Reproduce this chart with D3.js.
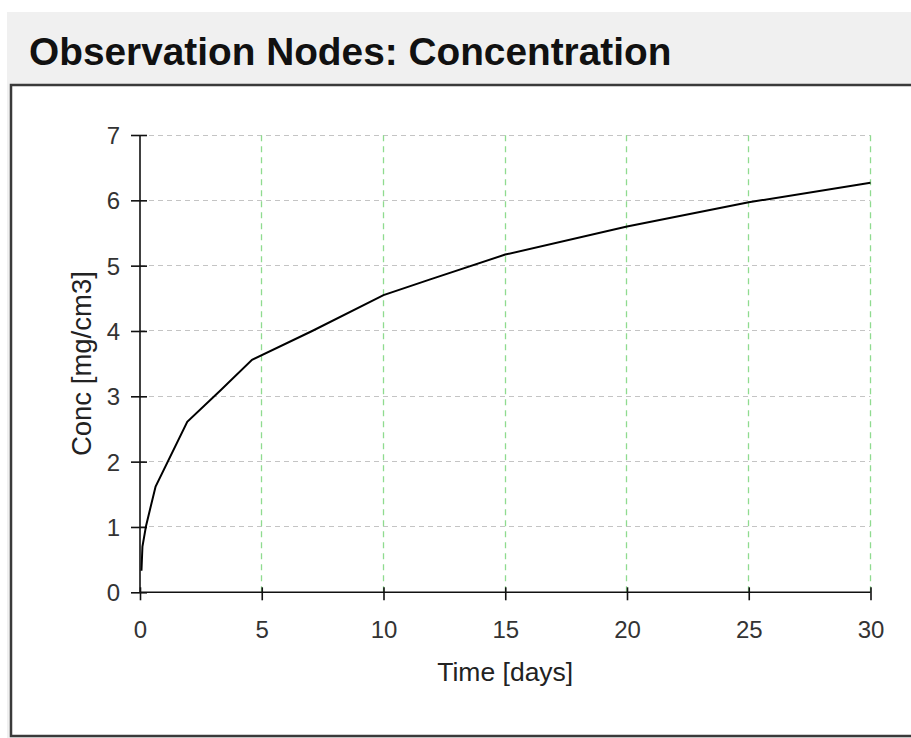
<!DOCTYPE html>
<html>
<head>
<meta charset="utf-8">
<script src="https://cdn.jsdelivr.net/npm/d3@7"></script>
<style>
  html, body { margin: 0; padding: 0; background: #ffffff; }
  svg { display: block; }
  text { font-family: "Liberation Sans", Arial, sans-serif; }
</style>
</head>
<body>
<script>
// Concentration at the observation node over time
const timeDays = [0.06, 0.10, 0.25, 0.64, 1.94, 3.30, 4.60, 7.07, 10.0, 11.92, 15.0, 20.0, 25.0, 30.0];
const concValues = [0.33, 0.70, 1.02, 1.62, 2.61, 3.09, 3.56, 4.00, 4.55, 4.79, 5.17, 5.60, 5.97, 6.27];

const xTicks = [0, 5, 10, 15, 20, 25, 30];
const yTicks = [0, 1, 2, 3, 4, 5, 6, 7];

const titleText = "Observation Nodes: Concentration";
const xTitle = "Time [days]";
const yTitle = "Conc [mg/cm3]";

const W = 911, H = 738;
const svg = d3.select("body").append("svg").attr("width", W).attr("height", H);

// header band and panel frame
svg.append("rect").attr("x", 7).attr("y", 12).attr("width", W - 7).attr("height", H - 12).attr("fill", "#f0f0f0");
svg.append("rect").attr("x", 11).attr("y", 85).attr("width", W + 10).attr("height", 651)
  .attr("fill", "#ffffff").attr("stroke", "#3a3a3a").attr("stroke-width", 2.5);

svg.append("text").attr("x", 29).attr("y", 65)
  .attr("font-size", 38.8).attr("font-weight", "bold").attr("fill", "#111")
  .text(titleText);

const x = d3.scaleLinear().domain([0, 30]).range([140, 870.5]);
const y = d3.scaleLinear().domain([0, 7]).range([592.3, 135]);
// snap 1px lines onto pixel centres so they stay crisp
const px = v => Math.round(v - 0.5) + 0.5;

// grid: grey dashed horizontals, green dashed verticals
const grid = svg.append("g");
grid.selectAll("line.hgrid").data(yTicks.filter(d => d > 0)).join("line")
  .attr("class", "hgrid")
  .attr("x1", x(0)).attr("x2", x(30)).attr("y1", d => px(y(d))).attr("y2", d => px(y(d)))
  .attr("stroke", "#c4c4c4").attr("stroke-width", 1).attr("stroke-dasharray", "5,4");
grid.selectAll("line.vgrid").data(xTicks.filter(d => d > 0)).join("line")
  .attr("class", "vgrid")
  .attr("y1", y(0)).attr("y2", y(7)).attr("x1", d => px(x(d))).attr("x2", d => px(x(d)))
  .attr("stroke", "#8fdb8f").attr("stroke-width", 1.3).attr("stroke-dasharray", "6,5");

// axes
const xAxis = svg.append("g").attr("transform", `translate(0,${y(0)})`)
  .call(d3.axisBottom(x).tickValues(xTicks).tickSize(0).tickPadding(0).tickFormat(d3.format("d")));
xAxis.select(".domain").attr("stroke", "#111").attr("stroke-width", 1.6).attr("d", `M${x(0)},0H${x(30)}`);
xAxis.selectAll(".tick line").attr("y1", -5).attr("y2", 8).attr("stroke", "#111").attr("stroke-width", 1.6);
xAxis.selectAll(".tick text").attr("y", 46).attr("dy", null).attr("font-size", 24).attr("fill", "#333")
  .attr("font-family", "Liberation Sans, Arial, sans-serif");

const yAxis = svg.append("g").attr("transform", `translate(${x(0)},0)`)
  .call(d3.axisLeft(y).tickValues(yTicks).tickSize(0).tickPadding(0).tickFormat(d3.format("d")));
yAxis.select(".domain").attr("stroke", "#111").attr("stroke-width", 1.6).attr("d", `M0,${y(0)}V${y(7)}`);
yAxis.selectAll(".tick line").attr("x1", -9).attr("x2", 7).attr("stroke", "#111").attr("stroke-width", 1.6);
yAxis.selectAll(".tick text").attr("x", -20).attr("dy", "0.36em").attr("font-size", 24).attr("fill", "#333")
  .attr("font-family", "Liberation Sans, Arial, sans-serif");

// axis titles
svg.append("text").attr("x", (x(0) + x(30)) / 2).attr("y", 681)
  .attr("text-anchor", "middle").attr("font-size", 26.5).attr("fill", "#222").text(xTitle);
svg.append("text").attr("transform", `translate(91,${(y(0) + y(7)) / 2}) rotate(-90)`)
  .attr("text-anchor", "middle").attr("font-size", 27.5).attr("fill", "#222").text(yTitle);

// concentration curve
const pts = timeDays.map((t, i) => [t, concValues[i]]);
svg.append("path").datum(pts)
  .attr("fill", "none").attr("stroke", "#000").attr("stroke-width", 2)
  .attr("d", d3.line().x(d => x(d[0])).y(d => y(d[1])));
</script>
</body>
</html>
